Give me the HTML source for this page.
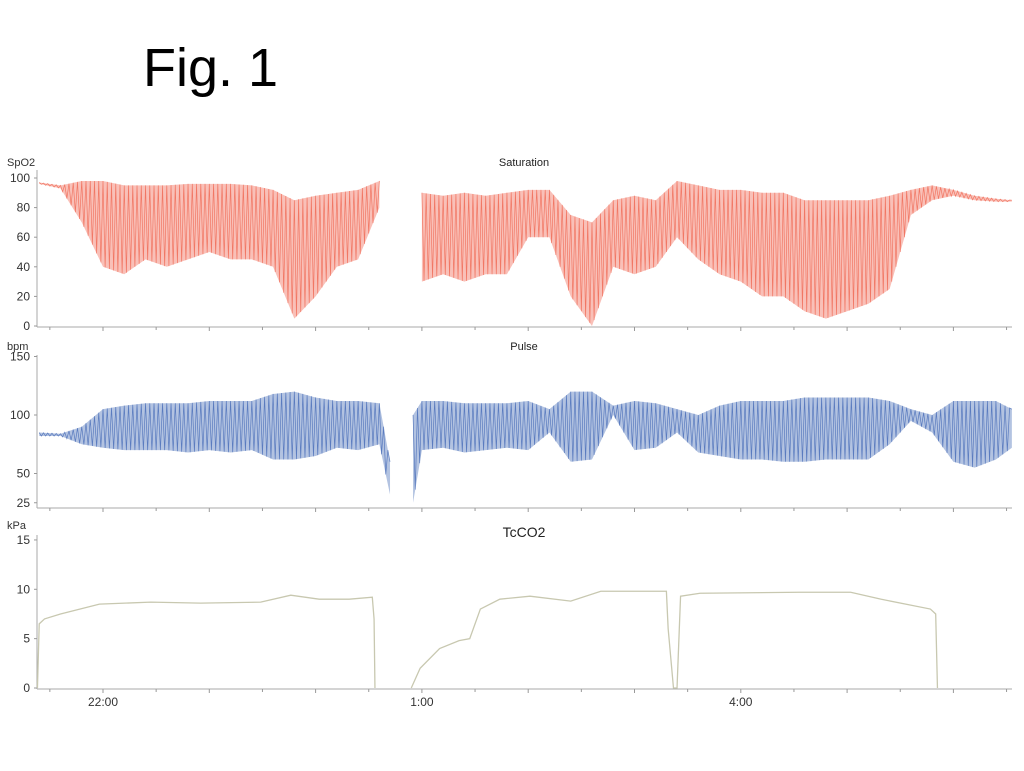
<!DOCTYPE html>
<html><head><meta charset="utf-8"><style>
body{margin:0;background:#fff;}
svg{display:block;font-family:"Liberation Sans",sans-serif;}
</style></head><body>
<svg id="chart" width="1024" height="771" viewBox="0 0 1024 771">
<text x="143" y="86" font-size="54" fill="#000">Fig. 1</text>
</svg>
<script>
// time in minutes relative to 22:00
const binTimes = [-36,-24,-12,0,12,24,36,48,60,72,84,96,108,120,132,144,156,168,180,192,204,216,228,240,252,264,276,288,300,312,324,336,348,360,372,384,396,408,420,432,444,456,468,480,492,504,513];
const spo2Hi = [97,95,98,98,95,95,95,96,96,96,95,92,85,88,90,92,98,null,90,88,90,88,90,92,92,75,70,85,88,85,98,95,92,92,90,90,85,85,85,85,88,92,95,92,88,86,85];
const spo2Lo = [96,93,70,40,35,45,40,45,50,45,45,40,5,20,40,45,80,null,30,35,30,35,35,60,60,20,0,40,35,40,60,45,35,30,20,20,10,5,10,15,25,75,85,88,85,84,84];
const pulseTimes = [-36,-24,-12,0,12,24,36,48,60,72,84,96,108,120,132,144,156,162,168,175,180,192,204,216,228,240,252,264,276,288,300,312,324,336,348,360,372,384,396,408,420,432,444,456,468,480,492,504,513];
const pulseHi = [85,84,90,105,108,110,110,110,112,112,112,118,120,115,112,112,110,60,null,100,112,112,110,110,110,112,105,120,120,108,112,110,105,100,108,112,112,112,115,115,115,115,112,105,100,112,112,112,105];
const pulseLo = [82,82,75,72,70,70,70,68,70,68,70,62,62,65,72,70,75,32,null,25,70,72,68,70,72,70,85,60,62,100,70,72,85,68,65,62,62,60,60,62,62,62,75,95,85,60,55,62,72];
const co2Times = [-37,-36,-33,-24,-2,27,55,89,106,122,139,152,153,153.5,null,174,179,190,201,207,213,224,241,264,281,303,318,319,322,324,326,337,393,422,439,467,470,471];
const co2Vals = [0,6.5,7,7.5,8.5,8.7,8.6,8.7,9.4,9.0,9.0,9.2,7,0,null,0,2,4,4.8,5,8,9.0,9.3,8.8,9.8,9.8,9.8,6,0,0,9.3,9.6,9.7,9.7,9.0,8,7.5,0];
const timeTickLabels = ["22:00","1:00","4:00"];
const timeTickMinutes = [0,180,360];
const spo2Ticks = [0,20,40,60,80,100];
const pulseTicks = [25,50,100,150];
const co2Ticks = [0,5,10,15];

const svg = document.getElementById('chart');
const NS = 'http://www.w3.org/2000/svg';
const X0 = 37, X1 = 1012;
function xScale(m){ return 103 + m * 106.3 / 60; }
function mk(tag, attrs){ const e = document.createElementNS(NS, tag); for (const k in attrs) e.setAttribute(k, attrs[k]); svg.appendChild(e); return e; }

const panels = [
  {name:'saturation', top:170, bottom:327, yv:v=>326 - v*1.48, ticks:spo2Ticks, unit:'SpO2', unitY:166, title:'Saturation', titleY:166, titleSize:11},
  {name:'pulse', top:355, bottom:508, yv:v=>415 - (v-100)*1.17, ticks:pulseTicks, unit:'bpm', unitY:350, title:'Pulse', titleY:350, titleSize:11},
  {name:'tcco2', top:535, bottom:689, yv:v=>688 - v*9.87, ticks:co2Ticks, unit:'kPa', unitY:529, title:'TcCO2', titleY:537, titleSize:14}
];

panels.forEach(p => {
  let e = mk('line',{x1:X0,y1:p.top,x2:X0,y2:p.bottom,stroke:'#aaa','stroke-width':1});
  
  
  e = mk('line',{x1:X0,y1:p.bottom,x2:X1,y2:p.bottom,stroke:'#aaa','stroke-width':1});
  
  
  for (let k = -1; k <= 17; k++) {
    const x = 103 + 53.15 * k;
    if (x < X0 || x > X1 + 1) continue;
    const t = mk('line',{x1:x,y1:p.bottom,x2:x,y2:p.bottom + (k % 2 === 0 ? 4 : 3),stroke:'#999','stroke-width':1});
    
    
  }
  p.ticks.forEach(v => {
    const y = p.yv(v);
    const tl = mk('text',{x:30,y:y+4,'font-size':12,'text-anchor':'end',fill:'#333'});
    tl.textContent = v;
    
    
    const tm = mk('line',{x1:X0-3,y1:y,x2:X0,y2:y,stroke:'#999'});
    
    
  });
  const u = mk('text',{x:7,y:p.unitY,'font-size':11,fill:'#333'});
  u.textContent = p.unit;
  
  
  const ti = mk('text',{x:524,y:p.titleY,'font-size':p.titleSize,'text-anchor':'middle',fill:'#222'});
  ti.textContent = p.title;
  
  
});

timeTickLabels.forEach((lab, i) => {
  const t = mk('text',{x:xScale(timeTickMinutes[i]),y:706,'font-size':12,'text-anchor':'middle',fill:'#333'});
  t.textContent = lab;
  
  
});

function envelope(times, hi, lo, yv, color, name) {
  let seg = [];
  const segs = [];
  for (let i = 0; i < times.length; i++) {
    if (hi[i] === null) { if (seg.length) segs.push(seg); seg = []; continue; }
    seg.push(i);
  }
  if (seg.length) segs.push(seg);
  segs.forEach(s => {
    let top = '', bot = '';
    s.forEach(i => { top += xScale(times[i]) + ',' + yv(hi[i]) + ' '; });
    s.slice().reverse().forEach(i => { bot += xScale(times[i]) + ',' + yv(lo[i]) + ' '; });
    const f = mk('polygon',{points:top + bot, fill:color, 'fill-opacity':0.42, stroke:'none'});
    
    
    let pts = '';
    let flip = 0;
    for (let a = 0; a < s.length - 1; a++) {
      const i = s[a], j = s[a+1];
      const x0 = xScale(times[i]), x1 = xScale(times[j]);
      const n = Math.max(2, Math.round((x1 - x0) / 2.2));
      for (let q = 0; q < n; q++) {
        const f2 = q / n;
        const h = hi[i] + (hi[j] - hi[i]) * f2;
        const l = lo[i] + (lo[j] - lo[i]) * f2;
        const v = flip ? l : h;
        flip = 1 - flip;
        pts += (x0 + (x1 - x0) * f2) + ',' + yv(v) + ' ';
      }
    }
    const last = s[s.length-1];
    pts += xScale(times[last]) + ',' + yv(hi[last]);
    const pl = mk('polyline',{points:pts, fill:'none', stroke:color, 'stroke-width':0.7, 'stroke-opacity':0.85});
    
    
  });
}
envelope(binTimes, spo2Hi, spo2Lo, panels[0].yv, '#f06a55', 'spo2');
envelope(pulseTimes, pulseHi, pulseLo, panels[1].yv, '#4a6fb8', 'pulse');

let d = '', pen = false;
co2Times.forEach((t, i) => {
  if (t === null) { pen = false; return; }
  d += (pen ? 'L' : 'M') + xScale(t) + ',' + panels[2].yv(co2Vals[i]) + ' ';
  pen = true;
});
const co2 = mk('path',{d:d, fill:'none', stroke:'#c8c8b0', 'stroke-width':1.3});


</script>
</body></html>
